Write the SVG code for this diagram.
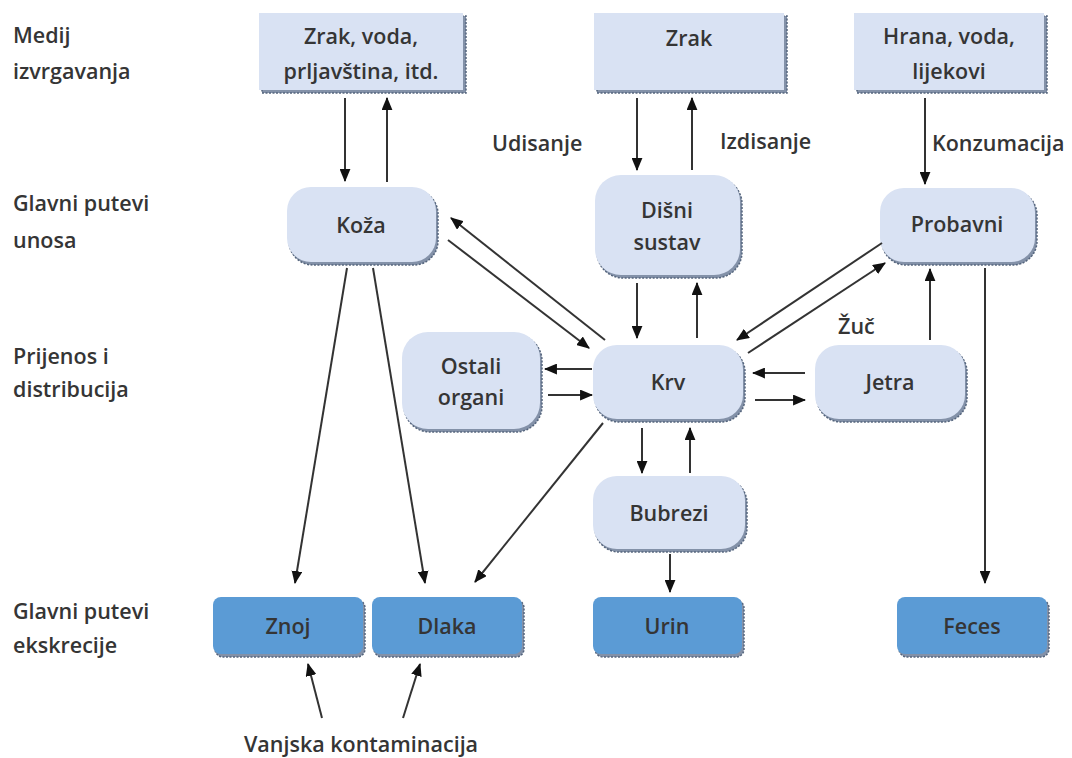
<svg xmlns="http://www.w3.org/2000/svg" width="1072" height="758" viewBox="0 0 1072 758">
<defs>
<marker id="ah" viewBox="0 0 12 10" refX="11" refY="5" markerWidth="13" markerHeight="11" markerUnits="userSpaceOnUse" orient="auto">
<path d="M0,0 L12,5 L0,10 Z" fill="#111"/>
</marker>
<style>
text{font-family:"Open Sans","Noto Sans","Liberation Sans",sans-serif;fill:#353535;font-size:21.5px;font-weight:600}
.c{text-anchor:middle}
.light{fill:#D9E2F3}
.dark{fill:#5B9BD5}
.sh{fill:#8391a8;stroke:#55657d;stroke-width:1.5;stroke-dasharray:2 1.5}
.conn line{stroke:#333;stroke-width:2;marker-end:url(#ah)}
</style>
</defs>
<rect width="1072" height="758" fill="#fff"/>

<g id="row-labels">
<text x="13" y="43">Medij</text>
<text x="13" y="79">izvrgavanja</text>
<text x="13" y="211">Glavni putevi</text>
<text x="13" y="248">unosa</text>
<text x="13" y="364">Prijenos i</text>
<text x="13" y="397">distribucija</text>
<text x="13" y="619">Glavni putevi</text>
<text x="13" y="653">ekskrecije</text>
</g>

<g id="n-zrakvoda">
<rect class="sh" x="262" y="16" width="204" height="77"/>
<rect class="light" x="259" y="13" width="204" height="77"/>
<text class="c" x="361" y="44">Zrak, voda,</text>
<text class="c" x="361" y="79">prljavština, itd.</text>
</g>
<g id="n-zrak">
<rect class="sh" x="597" y="16" width="190" height="77"/>
<rect class="light" x="594" y="13" width="190" height="77"/>
<text class="c" x="689" y="46">Zrak</text>
</g>
<g id="n-hrana">
<rect class="sh" x="857" y="16" width="190" height="77"/>
<rect class="light" x="854" y="13" width="190" height="77"/>
<text class="c" x="949" y="44">Hrana, voda,</text>
<text class="c" x="949" y="79">lijekovi</text>
</g>

<g id="n-koza">
<rect class="sh" x="289" y="190" width="149" height="75" rx="24"/>
<rect class="light" x="287" y="187" width="149" height="75" rx="24"/>
<text class="c" x="361" y="233">Koža</text>
</g>
<g id="n-disni">
<rect class="sh" x="597" y="178" width="145" height="100" rx="26"/>
<rect class="light" x="595" y="175" width="145" height="100" rx="26"/>
<text class="c" x="667" y="218">Dišni</text>
<text class="c" x="667" y="250">sustav</text>
</g>
<g id="n-probavni">
<rect class="sh" x="882" y="191" width="155" height="74" rx="24"/>
<rect class="light" x="880" y="188" width="155" height="74" rx="24"/>
<text class="c" x="957" y="232">Probavni</text>
</g>

<g id="n-ostali">
<rect class="sh" x="404" y="335" width="138" height="97" rx="26"/>
<rect class="light" x="402" y="332" width="138" height="97" rx="26"/>
<text class="c" x="471" y="374">Ostali</text>
<text class="c" x="471" y="405">organi</text>
</g>
<g id="n-krv">
<rect class="sh" x="595" y="348" width="150" height="74" rx="24"/>
<rect class="light" x="593" y="345" width="150" height="74" rx="24"/>
<text class="c" x="668" y="390">Krv</text>
</g>
<g id="n-jetra">
<rect class="sh" x="817" y="348" width="150" height="74" rx="24"/>
<rect class="light" x="815" y="345" width="150" height="74" rx="24"/>
<text class="c" x="890" y="390">Jetra</text>
</g>
<g id="n-bubrezi">
<rect class="sh" x="595" y="479" width="152" height="73" rx="24"/>
<rect class="light" x="593" y="476" width="152" height="73" rx="24"/>
<text class="c" x="669" y="521">Bubrezi</text>
</g>

<g id="n-znoj">
<rect class="sh" x="215" y="600" width="150" height="57" rx="8"/>
<rect class="dark" x="213" y="597" width="150" height="57" rx="8"/>
<text class="c" x="288" y="634">Znoj</text>
</g>
<g id="n-dlaka">
<rect class="sh" x="374" y="600" width="150" height="57" rx="8"/>
<rect class="dark" x="372" y="597" width="150" height="57" rx="8"/>
<text class="c" x="447" y="634">Dlaka</text>
</g>
<g id="n-urin">
<rect class="sh" x="595" y="600" width="149" height="57" rx="8"/>
<rect class="dark" x="593" y="597" width="149" height="57" rx="8"/>
<text class="c" x="667" y="634">Urin</text>
</g>
<g id="n-feces">
<rect class="sh" x="899" y="600" width="150" height="57" rx="8"/>
<rect class="dark" x="897" y="597" width="150" height="57" rx="8"/>
<text class="c" x="972" y="634">Feces</text>
</g>

<g id="edge-labels">
<text x="492" y="151">Udisanje</text>
<text x="720" y="149">Izdisanje</text>
<text x="932" y="151">Konzumacija</text>
<text x="838" y="334">Žuč</text>
<text class="c" x="361" y="752">Vanjska kontaminacija</text>
</g>

<g id="connectors" class="conn">
<line x1="345" y1="98" x2="345" y2="181"/>
<line x1="387" y1="182" x2="387" y2="98"/>
<line x1="637" y1="98" x2="637" y2="170"/>
<line x1="692" y1="170" x2="692" y2="98"/>
<line x1="925" y1="98" x2="925" y2="184"/>
<line x1="605" y1="340" x2="451" y2="218"/>
<line x1="448" y1="240" x2="589" y2="348"/>
<line x1="637" y1="283" x2="637" y2="338"/>
<line x1="697" y1="338" x2="697" y2="283"/>
<line x1="882" y1="243" x2="737" y2="340"/>
<line x1="748" y1="353" x2="885" y2="263"/>
<line x1="930" y1="340" x2="930" y2="269"/>
<line x1="805" y1="373" x2="753" y2="373"/>
<line x1="755" y1="400" x2="805" y2="400"/>
<line x1="592" y1="369" x2="545" y2="369"/>
<line x1="548" y1="395" x2="592" y2="395"/>
<line x1="642" y1="428" x2="642" y2="473"/>
<line x1="690" y1="473" x2="690" y2="428"/>
<line x1="670" y1="554" x2="670" y2="592"/>
<line x1="603" y1="423" x2="475" y2="582"/>
<line x1="347" y1="268" x2="295" y2="583"/>
<line x1="373" y1="268" x2="425" y2="583"/>
<line x1="985" y1="268" x2="985" y2="583"/>
<line x1="322" y1="718" x2="308" y2="664"/>
<line x1="403" y1="718" x2="420" y2="664"/>
</g>
</svg>
